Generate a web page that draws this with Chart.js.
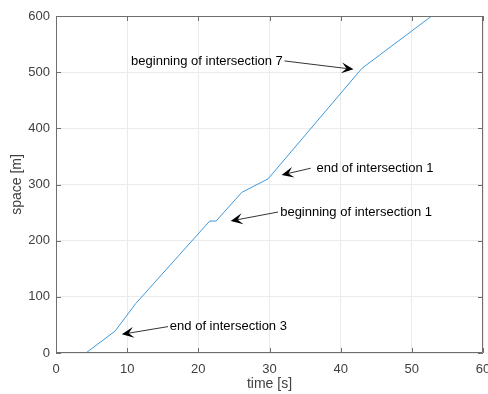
<!DOCTYPE html>
<html>
<head>
<meta charset="utf-8">
<script src="https://cdn.jsdelivr.net/npm/chart.js@4/dist/chart.umd.min.js"></script>
<style>
html,body{margin:0;padding:0;background:#fff;}
#wrap{width:488px;height:394px;}
</style>
</head>
<body>
<div id="wrap"><canvas id="c" width="488" height="394"></canvas></div>
<script>
// ---- data ----
const timeS  = [4.2, 8.3, 11.2, 21.6, 22.5, 26.1, 29.8, 43.0, 52.8];
const spaceM = [0,   39,  88,   235,  235,  286,  310,  507,  600];
const xTicks = [0, 10, 20, 30, 40, 50, 60];
const yTicks = [0, 100, 200, 300, 400, 500, 600];
const xTitle = 'time [s]';
const yTitle = 'space [m]';
const noteTexts = ['beginning of intersection 7', 'end of intersection 1', 'beginning of intersection 1', 'end of intersection 3'];

// annotation placement in data coordinates (text start, arrow tail, arrow tip)
const notes = [
  {text: noteTexts[0], tx: 10.55, ty: 520, ax: 32.1, ay: 520, bx: 41.8, by: 505},
  {text: noteTexts[1], tx: 36.6,  ty: 329, ax: 35.8, ay: 329, bx: 31.7, by: 317},
  {text: noteTexts[2], tx: 31.5,  ty: 251, ax: 31.2, ay: 251, bx: 24.55, by: 235},
  {text: noteTexts[3], tx: 16.0,  ty: 47,  ax: 15.75, ay: 47, bx: 9.25, by: 33.3}
];

const FONT = '"Liberation Sans", Arial, sans-serif';

const matlabAxes = {
  id: 'matlabAxes',
  afterDatasetsDraw(chart) {
    const ctx = chart.ctx;
    const a = chart.chartArea;
    const xs = chart.scales.x, ys = chart.scales.y;
    ctx.save();
    // box
    ctx.strokeStyle = '#6e6e6e';
    ctx.lineWidth = 1;
    ctx.beginPath();
    ctx.rect(Math.round(a.left) + 0.5, Math.round(a.top) + 0.5,
             Math.round(a.right - a.left) - 1, Math.round(a.bottom - a.top) - 1);
    ctx.stroke();
    // inward ticks
    const tl = 5;
    ctx.beginPath();
    xTicks.forEach(v => {
      const px = Math.round(xs.getPixelForValue(v)) + 0.5;
      ctx.moveTo(px, a.bottom); ctx.lineTo(px, a.bottom - tl);
      ctx.moveTo(px, a.top); ctx.lineTo(px, a.top + tl);
    });
    yTicks.forEach(v => {
      const py = Math.round(ys.getPixelForValue(v)) + 0.5;
      ctx.moveTo(a.left, py); ctx.lineTo(a.left + tl, py);
      ctx.moveTo(a.right, py); ctx.lineTo(a.right - tl, py);
    });
    ctx.stroke();

    // annotations
    notes.forEach(n => {
      const x1 = xs.getPixelForValue(n.ax), y1 = ys.getPixelForValue(n.ay);
      const x2 = xs.getPixelForValue(n.bx), y2 = ys.getPixelForValue(n.by);
      const ang = Math.atan2(y2 - y1, x2 - x1);
      const L = 12, W = 5.5, notch = 7;
      ctx.strokeStyle = '#000';
      ctx.lineWidth = 0.8;
      ctx.beginPath();
      ctx.moveTo(x1, y1);
      ctx.lineTo(x2 - Math.cos(ang) * notch, y2 - Math.sin(ang) * notch);
      ctx.stroke();
      ctx.save();
      ctx.translate(x2, y2);
      ctx.rotate(ang);
      ctx.fillStyle = '#000';
      ctx.beginPath();
      ctx.moveTo(0, 0);
      ctx.lineTo(-L, -W);
      ctx.lineTo(-notch, 0);
      ctx.lineTo(-L, W);
      ctx.closePath();
      ctx.fill();
      ctx.restore();
      ctx.fillStyle = '#000';
      ctx.font = '13px ' + FONT;
      ctx.textAlign = 'left';
      ctx.textBaseline = 'middle';
      ctx.fillText(n.text, xs.getPixelForValue(n.tx), ys.getPixelForValue(n.ty));
    });
    ctx.restore();
  }
};

new Chart(document.getElementById('c'), {
  type: 'line',
  data: {
    datasets: [{
      data: timeS.map((t, i) => ({x: t, y: spaceM[i]})),
      borderColor: '#3f98da',
      borderWidth: 1,
      pointRadius: 0,
      tension: 0,
      fill: false
    }]
  },
  options: {
    responsive: false,
    animation: false,
    devicePixelRatio: 1,
    layout: {padding: {left: 0, right: 5, top: 16, bottom: 0}},
    plugins: {legend: {display: false}, tooltip: {enabled: false}},
    scales: {
      x: {
        type: 'linear',
        min: 0, max: 60,
        afterBuildTicks: s => { s.ticks = xTicks.map(v => ({value: v})); },
        afterFit: s => { s.height = 41; s.paddingLeft = 0; s.paddingRight = 0; },
        grid: {color: '#ebebeb', drawTicks: false, lineWidth: 1},
        border: {display: false},
        ticks: {color: '#404040', font: {family: FONT, size: 13}, padding: 9, maxRotation: 0, autoSkip: false},
        title: {display: true, text: xTitle, color: '#404040', font: {family: FONT, size: 14}, padding: {top: 0, bottom: 1}}
      },
      y: {
        type: 'linear',
        min: 0, max: 600,
        afterBuildTicks: s => { s.ticks = yTicks.map(v => ({value: v})); },
        afterFit: s => { s.width = 56; s.paddingTop = 0; s.paddingBottom = 0; },
        grid: {color: '#ebebeb', drawTicks: false, lineWidth: 1},
        border: {display: false},
        ticks: {color: '#404040', font: {family: FONT, size: 13}, padding: 6, autoSkip: false},
        title: {display: true, text: yTitle, color: '#404040', font: {family: FONT, size: 14}, padding: {top: 9, bottom: 0}}
      }
    }
  },
  plugins: [matlabAxes]
});
</script>
</body>
</html>
